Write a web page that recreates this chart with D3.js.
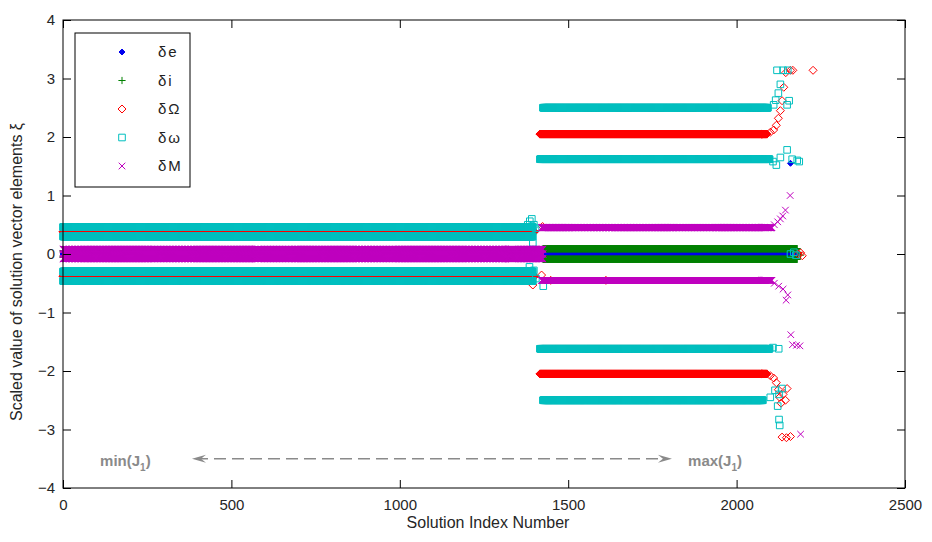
<!DOCTYPE html>
<html>
<head>
<meta charset="utf-8">
<script src="https://cdn.jsdelivr.net/npm/d3@7"></script>
<style>
  body { margin: 0; background: #fff; }
  text { font-family: "Liberation Sans", Arial, sans-serif; }
</style>
</head>
<body>
<svg id="chart" width="932" height="542"></svg>
<script>
// Runs of solutions that share one element value: [firstIndex, lastIndex, value]
const bandsDe = [[0, 1400, 0], [1425, 2180, 0]];
const bandsDi = [[0, 1400, 0.05], [0, 1400, -0.05], [1425, 2180, 0.09], [1425, 2180, -0.09]];
const bandsDOmega = [[0, 1400, 0.38], [0, 1400, -0.38], [1416, 2090, 2.05], [1416, 2090, -2.05]];
const bandsDomega = [[0, 1395, 0.46], [0, 1395, 0.30], [0, 1395, -0.30], [0, 1395, -0.46],
                     [1425, 2093, 2.5], [1416, 2098, 1.62], [1416, 2098, -1.62], [1425, 2078, -2.5]];
const bandsDM = [[0, 1425, 0.08], [0, 1425, 0], [0, 1425, -0.08], [1421, 2105, 0.45], [1421, 2105, -0.45]];

// Isolated solutions: [index, value]
const pointsDe = [[2160, 1.55]];
const pointsDi = [[2185, 0.02], [2190, -0.02]];
const pointsDOmega = [[410, -0.42], [1424, 0.47], [1421, -0.36], [1395, -0.53], [1448, -0.45], [1612, -0.45],
  [2100, 2.08], [2110, 2.12], [2118, 2.2], [2124, 2.32], [2130, 2.45], [2135, 2.62], [2140, 2.85], [2146, 3.1],
  [2160, 3.14], [2167, 3.14], [2227, 3.14],
  [2182, 0], [2190, 0.02], [2195, -0.03],
  [2100, -2.08], [2110, -2.12], [2118, -2.2], [2124, -2.32], [2128, -2.45], [2132, -2.55], [2138, -2.4],
  [2145, -2.5], [2150, -2.3], [2135, -3.13], [2148, -3.14], [2160, -3.12]];
const pointsDomega = [[1380, 0.5], [1386, 0.56], [1392, 0.6], [1398, 0.5], [1403, 0.44], [1395, 0.19],
  [1385, -0.22], [1398, -0.28], [1404, -0.42], [1426, -0.55],
  [2110, 2.55], [2116, 2.63], [2124, 2.75], [2130, 2.9], [2120, 3.14], [2138, 3.14], [2152, 3.14],
  [2150, 2.55], [2156, 2.62],
  [2108, 1.58], [2118, 1.52], [2130, 1.65], [2150, 1.78], [2165, 1.62], [2180, 1.6], [2186, 1.58],
  [2160, 0], [2170, 0.03], [2176, -0.02],
  [2108, -1.6], [2125, -1.62],
  [2100, -2.45], [2114, -2.33], [2126, -2.4], [2122, -2.6], [2126, -2.83], [2128, -2.93], [2135, -2.3]];
const pointsDM = [[2112, 0.5], [2122, 0.55], [2130, 0.6], [2137, 0.65], [2145, 0.75], [2159, 1.0],
  [2112, -0.5], [2125, -0.55], [2138, -0.6], [2147, -0.79], [2152, -0.7], [2161, -1.38],
  [2166, -1.55], [2178, -1.56], [2188, -1.57], [2190, -3.08]];

const xTicks = [0, 500, 1000, 1500, 2000, 2500];
const yTicks = [-4, -3, -2, -1, 0, 1, 2, 3, 4];
const legendLabels = ["δe", "δi", "δΩ", "δω", "δM"];

const svg = d3.select("#chart");
const margin = { left: 63, right: 27, top: 20, bottom: 54 };
const W = 932, H = 542;

const x = d3.scaleLinear().domain([0, 2500]).range([margin.left, W - margin.right]);
const y = d3.scaleLinear().domain([-4, 4]).range([H - margin.bottom, margin.top]);

// Marker shapes, centred on the origin
const shapes = {
  diamondFilled: r => `M0,${-r}L${r},0L0,${r}L${-r},0Z`,
  plus: r => `M${-r},0H${r}M0,${-r}V${r}`,
  diamond: r => `M0,${-r}L${r},0L0,${r}L${-r},0Z`,
  square: r => `M${-r},${-r}H${r}V${r}H${-r}Z`,
  cross: r => `M${-r},${-r}L${r},${r}M${-r},${r}L${r},${-r}`
};

const series = [
  { name: "de", bands: bandsDe, points: pointsDe, color: "#0000ee", shape: "diamondFilled", r: 3, filled: true },
  { name: "di", bands: bandsDi, points: pointsDi, color: "#008000", shape: "plus", r: 3.6 },
  { name: "dOmega", bands: bandsDOmega, points: pointsDOmega, color: "#ff0000", shape: "diamond", r: 4 },
  { name: "domega", bands: bandsDomega, points: pointsDomega, color: "#00bfbf", shape: "square", r: 3.3 },
  { name: "dM", bands: bandsDM, points: pointsDM, color: "#bf00bf", shape: "cross", r: 3.3 }
];

const plot = svg.append("g");
series.forEach(s => {
  const pts = [];
  s.bands.forEach(([a, b, v]) => d3.range(a, b + 1).forEach(i => pts.push([i, v])));
  s.points.forEach(p => pts.push(p));
  plot.append("g")
    .attr("class", "series-" + s.name)
    .selectAll("path")
    .data(pts)
    .join("path")
    .attr("transform", d => `translate(${x(d[0])},${y(d[1])})`)
    .attr("d", shapes[s.shape](s.r))
    .attr("fill", s.filled ? s.color : "none")
    .attr("stroke", s.color)
    .attr("stroke-width", 1);
});

// Axes: ticks point inward on all four sides
const tickLen = 8;
const axisFont = g => g.selectAll("text").attr("font-size", 15).attr("fill", "#262626")
  .attr("font-family", '"Liberation Sans", Arial, sans-serif');

svg.append("g").attr("transform", `translate(0,${y(-4)})`)
  .call(d3.axisBottom(x).tickValues(xTicks).tickFormat(d3.format("d"))
    .tickSize(-tickLen).tickSizeOuter(0).tickPadding(11))
  .call(axisFont).call(g => g.select(".domain").remove())
  .call(g => g.selectAll("line").attr("stroke", "#000"));
svg.append("g").attr("transform", `translate(0,${y(4)})`)
  .call(d3.axisTop(x).tickValues(xTicks).tickSize(-tickLen).tickSizeOuter(0).tickFormat(""))
  .call(g => g.select(".domain").remove())
  .call(g => g.selectAll("line").attr("stroke", "#000"));
svg.append("g").attr("transform", `translate(${x(0)},0)`)
  .call(d3.axisLeft(y).tickValues(yTicks).tickFormat(d3.format("d"))
    .tickSize(-tickLen).tickSizeOuter(0).tickPadding(8))
  .call(axisFont).call(g => g.select(".domain").remove())
  .call(g => g.selectAll("line").attr("stroke", "#000"));
svg.append("g").attr("transform", `translate(${x(2500)},0)`)
  .call(d3.axisRight(y).tickValues(yTicks).tickSize(-tickLen).tickSizeOuter(0).tickFormat(""))
  .call(g => g.select(".domain").remove())
  .call(g => g.selectAll("line").attr("stroke", "#000"));

svg.append("rect")
  .attr("x", x(0)).attr("y", y(4))
  .attr("width", x(2500) - x(0)).attr("height", y(-4) - y(4))
  .attr("fill", "none").attr("stroke", "#000").attr("stroke-width", 1);

// Axis titles
svg.append("text")
  .attr("x", (x(0) + x(2500)) / 2 + 4).attr("y", 528)
  .attr("text-anchor", "middle").attr("font-size", 16).attr("fill", "#262626")
  .text("Solution Index Number");
svg.append("text")
  .attr("transform", `translate(22,${y(0) + 18}) rotate(-90)`)
  .attr("text-anchor", "middle").attr("font-size", 16).attr("fill", "#262626")
  .text("Scaled value of solution vector elements ξ");

// Search direction annotation
const ann = svg.append("g").attr("fill", "#8a8a8a").attr("stroke", "#8a8a8a");
const ay = y(-3.5);
const ax0 = x(383), ax1 = x(1808);
ann.append("line").attr("x1", ax0 + 4).attr("x2", ax1 - 4).attr("y1", ay).attr("y2", ay)
  .attr("stroke-width", 1.3).attr("stroke-dasharray", "12,6");
ann.append("path").attr("stroke", "none")
  .attr("d", `M${ax0},${ay}L${ax0 + 14},${ay - 4}L${ax0 + 9},${ay}L${ax0 + 14},${ay + 4}Z`);
ann.append("path").attr("stroke", "none")
  .attr("d", `M${ax1},${ay}L${ax1 - 14},${ay - 4}L${ax1 - 9},${ay}L${ax1 - 14},${ay + 4}Z`);

function jLabel(xPos, prefix) {
  const t = svg.append("text").attr("x", xPos).attr("y", y(-3.5) + 7)
    .attr("font-size", 15).attr("font-weight", "bold").attr("fill", "#8a8a8a");
  t.append("tspan").text(prefix + "(J");
  t.append("tspan").attr("font-size", 10).attr("dy", 5).text("1");
  t.append("tspan").attr("dy", -5).text(")");
}
jLabel(x(110), "min");
jLabel(x(1856), "max");

// Legend
const lg = svg.append("g");
lg.append("rect").attr("x", 75).attr("y", 33).attr("width", 115).attr("height", 154)
  .attr("fill", "#fff").attr("stroke", "#000").attr("stroke-width", 1);
series.forEach((s, k) => {
  const ly = 52 + k * 28.5;
  lg.append("path")
    .attr("transform", `translate(122,${ly})`)
    .attr("d", shapes[s.shape](s.r))
    .attr("fill", s.filled ? s.color : "none")
    .attr("stroke", s.color).attr("stroke-width", 1);
  lg.append("text")
    .attr("x", 158).attr("y", ly + 5)
    .attr("font-family", '"Liberation Mono", "DejaVu Sans Mono", monospace')
    .attr("font-size", 15).attr("letter-spacing", 2).attr("fill", "#222")
    .text(legendLabels[k]);
});
</script>
</body>
</html>
